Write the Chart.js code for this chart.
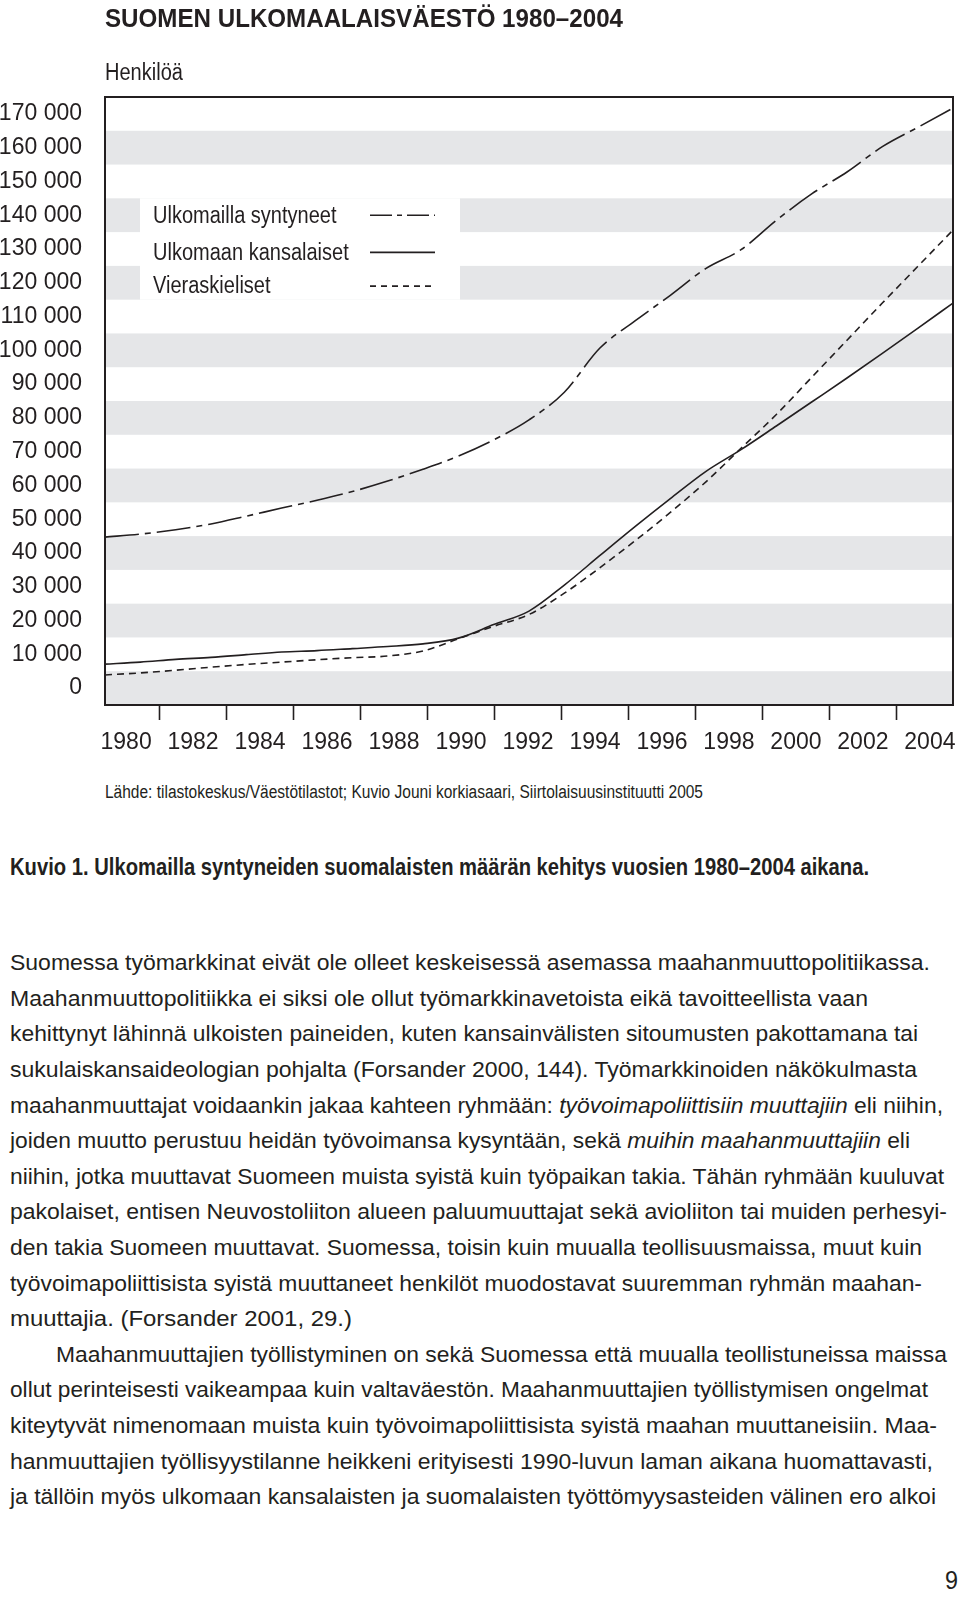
<!DOCTYPE html>
<html lang="fi">
<head>
<meta charset="utf-8">
<script src="https://cdn.jsdelivr.net/npm/chart.js"></script>
<style>
    html, body { margin: 0; padding: 0; background: #fff; }
    body { width: 960px; height: 1607px; position: relative; overflow: hidden; }
    #kuvio { position: absolute; left: 0; top: 0; }
    .txt {
        position: absolute;
        white-space: nowrap;
        line-height: 1;
        transform-origin: 0 0;
        font-family: 'Liberation Sans', Arial, sans-serif;
        color: #231f20;
        z-index: 2;
    }
</style>
</head>
<body>
<canvas id="kuvio" width="960" height="770"></canvas>
<script>
// vuodet ja sarjat (luettu kuvasta)
const vuodet = [1980, 1981, 1982, 1983, 1984, 1985, 1986, 1987, 1988, 1989, 1990, 1991, 1992,
    1993, 1994, 1995, 1996, 1997, 1998, 1999, 2000, 2001, 2002, 2003, 2004];
const ulkomaillaSyntyneet = [44700, 45600, 46900, 48600, 50900, 53300, 55600, 58200, 61300, 64800,
    68700, 73500, 79400, 87600, 100600, 108700, 116300, 124200, 129800, 138500, 146300, 152800,
    160300, 166000, 171700];
const ulkomaanKansalaiset = [7100, 7700, 8500, 9100, 9900, 10700, 11100, 11700, 12300, 13100,
    14800, 18800, 22800, 30500, 39200, 47800, 56100, 64100, 70600, 77600, 84700, 91800,
    99100, 106500, 114000];
const vieraskieliset = [3900, 4500, 5300, 6200, 7000, 7700, 8400, 9000, 9500, 11000,
    14600, 18300, 21800, 28100, 35600, 43600, 52000, 61000, 71000, 81000, 92000, 103000,
    114000, 124800, 135600];

const sarjaNimet = ['Ulkomailla syntyneet', 'Ulkomaan kansalaiset', 'Vieraskieliset'];
const yTicks = [0, 10000, 20000, 30000, 40000, 50000, 60000, 70000, 80000, 90000, 100000,
    110000, 120000, 130000, 140000, 150000, 160000, 170000];
const xLabelYears = [1980, 1982, 1984, 1986, 1988, 1990, 1992, 1994, 1996, 1998, 2000, 2002, 2004];
const xMarkYears = [1981, 1983, 1985, 1987, 1989, 1991, 1993, 1995, 1997, 1999, 2001, 2003];

const FONT = "'Liberation Sans', Arial, sans-serif";
const INK = '#231f20';
const BAND = '#e5e6e8';

const viivat = [
    { data: ulkomaillaSyntyneet, dash: [34, 6, 6, 6], legendDash: [22, 5, 5, 5] },
    { data: ulkomaanKansalaiset, dash: [], legendDash: [] },
    { data: vieraskieliset, dash: [7, 5], legendDash: [6, 5] }
];

function muotoile(v) {
    return String(v).replace(/\B(?=(\d{3})+(?!\d))/g, ' ');
}

// taustaraidat, selitelaatikko ja kehys
const koristeet = {
    id: 'koristeet',
    beforeDatasetsDraw(chart) {
        const { ctx, chartArea: a, scales } = chart;
        const y = scales.y;
        ctx.save();
        ctx.fillStyle = BAND;
        yTicks.forEach((v, i) => {
            if (i % 2 !== 0) return;
            const t = y.getPixelForValue(v + 5000);
            const b = y.getPixelForValue(v - 5000);
            ctx.fillRect(a.left, t, a.right - a.left, b - t);
        });
        // selitteen valkoinen alue
        const lt = y.getPixelForValue(145000);
        const lb = y.getPixelForValue(115000);
        ctx.fillStyle = '#fff';
        ctx.fillRect(a.left + 35, lt, 320, lb - lt);
        ctx.restore();
    },
    afterDatasetsDraw(chart) {
        const { ctx, chartArea: a, scales } = chart;
        const y = scales.y;
        ctx.save();
        ctx.strokeStyle = INK;
        ctx.lineWidth = 2;
        ctx.strokeRect(a.left, a.top, a.right - a.left, a.bottom - a.top);

        // selite
        const rivit = [140000, 129000, 119000];
        ctx.font = '23px ' + FONT;
        ctx.textBaseline = 'middle';
        ctx.fillStyle = INK;
        sarjaNimet.forEach((nimi, i) => {
            const yy = y.getPixelForValue(rivit[i]);
            ctx.save();
            ctx.translate(a.left + 48, yy + 1);
            ctx.scale(0.87, 1);
            ctx.fillText(nimi, 0, 0);
            ctx.restore();
            ctx.beginPath();
            ctx.setLineDash(viivat[i].legendDash);
            ctx.lineWidth = 1.6;
            ctx.moveTo(a.left + 265, yy);
            ctx.lineTo(a.left + 330, yy);
            ctx.stroke();
        });
        ctx.restore();
    }
};

new Chart(document.getElementById('kuvio'), {
    type: 'line',
    data: {
        datasets: viivat.map((v, i) => ({
            label: sarjaNimet[i],
            data: vuodet.map((vuosi, j) => ({ x: vuosi, y: v.data[j] })),
            borderColor: INK,
            borderWidth: 1.6,
            borderDash: v.dash,
            pointRadius: 0,
            fill: false,
            cubicInterpolationMode: 'monotone',
            xAxisID: 'x',
            yAxisID: 'y'
        }))
    },
    options: {
        responsive: false,
        animation: false,
        layout: { padding: { top: 97, right: 7, left: 0, bottom: 0 } },
        plugins: { legend: { display: false }, tooltip: { enabled: false } },
        scales: {
            x: {
                type: 'linear',
                min: 1980,
                max: 2004,
                display: false
            },
            xl: {
                type: 'linear',
                position: 'bottom',
                min: 1979.37,
                max: 2004.69,
                afterBuildTicks: s => {
                    s.ticks = xLabelYears.concat(xMarkYears).sort((p, q) => p - q).map(v => ({ value: v }));
                },
                afterFit: s => {
                    s.height = 65;
                    s.paddingLeft = 0;
                    s.paddingRight = 0;
                },
                border: { display: false },
                grid: {
                    drawOnChartArea: false,
                    drawTicks: true,
                    tickLength: 15,
                    tickWidth: 1.6,
                    tickColor: c => (c.tick && xMarkYears.includes(c.tick.value)) ? INK : 'rgba(0,0,0,0)'
                },
                ticks: {
                    autoSkip: false,
                    maxRotation: 0,
                    padding: 9,
                    color: INK,
                    font: { family: FONT, size: 23 },
                    callback: v => xLabelYears.includes(v) ? String(v) : ''
                }
            },
            y: {
                type: 'linear',
                min: -5000,
                max: 175000,
                afterBuildTicks: s => { s.ticks = yTicks.map(v => ({ value: v })); },
                afterFit: s => {
                    s.width = 105;
                    s.paddingTop = 0;
                    s.paddingBottom = 0;
                },
                border: { display: false },
                grid: { display: false, drawTicks: false },
                ticks: {
                    padding: 23,
                    color: INK,
                    font: { family: FONT, size: 23 },
                    callback: v => muotoile(v)
                }
            }
        }
    },
    plugins: [koristeet]
});

// sivun tekstit
const tekstit = [
    { html: 'SUOMEN ULKOMAALAISVÄESTÖ 1980–2004', x: 105, cy: 17.5, fs: 26, w: 518, bold: true },
    { html: 'Henkilöä', x: 105, cy: 72, fs: 23, w: 78 },
    { html: 'Lähde: tilastokeskus/Väestötilastot; Kuvio Jouni korkiasaari, Siirtolaisuusinstituutti 2005', x: 105, cy: 792, fs: 18, w: 598 },
    { html: 'Kuvio 1. Ulkomailla syntyneiden suomalaisten määrän kehitys vuosien 1980–2004 aikana.', x: 10, cy: 867, fs: 23, w: 859, bold: true },
    { html: '9', x: 945, cy: 1580, fs: 26, w: 13 }
];

const leipa = [
    'Suomessa työmarkkinat eivät ole olleet keskeisessä asemassa maahanmuuttopolitiikassa.',
    'Maahanmuuttopolitiikka ei siksi ole ollut työmarkkinavetoista eikä tavoitteellista vaan',
    'kehittynyt lähinnä ulkoisten paineiden, kuten kansainvälisten sitoumusten pakottamana tai',
    'sukulaiskansaideologian pohjalta (Forsander 2000, 144). Työmarkkinoiden näkökulmasta',
    'maahanmuuttajat voidaankin jakaa kahteen ryhmään: <i>työvoimapoliittisiin muuttajiin</i> eli niihin,',
    'joiden muutto perustuu heidän työvoimansa kysyntään, sekä <i>muihin maahanmuuttajiin</i> eli',
    'niihin, jotka muuttavat Suomeen muista syistä kuin työpaikan takia. Tähän ryhmään kuuluvat',
    'pakolaiset, entisen Neuvostoliiton alueen paluumuuttajat sekä avioliiton tai muiden perhesyi-',
    'den takia Suomeen muuttavat. Suomessa, toisin kuin muualla teollisuusmaissa, muut kuin',
    'työvoimapoliittisista syistä muuttaneet henkilöt muodostavat suuremman ryhmän maahan-',
    'muuttajia. (Forsander 2001, 29.)',
    'Maahanmuuttajien työllistyminen on sekä Suomessa että muualla teollistuneissa maissa',
    'ollut perinteisesti vaikeampaa kuin valtaväestön. Maahanmuuttajien työllistymisen ongelmat',
    'kiteytyvät nimenomaan muista kuin työvoimapoliittisista syistä maahan muuttaneisiin. Maa-',
    'hanmuuttajien työllisyystilanne heikkeni erityisesti 1990-luvun laman aikana huomattavasti,',
    'ja tällöin myös ulkomaan kansalaisten ja suomalaisten työttömyysasteiden välinen ero alkoi'
];
const leipaLoppu = [930, 868, 918, 917, 943, 910, 944, 947, 922, 922, 352, 947, 928, 937, 933, 936];

leipa.forEach((rivi, i) => {
    const x = i === 11 ? 56 : 10;
    tekstit.push({ html: rivi, x: x, cy: 963 + 35.6 * i, fs: 22, w: leipaLoppu[i] - x });
});

tekstit.forEach(t => {
    const el = document.createElement('div');
    el.className = 'txt';
    el.style.fontSize = t.fs + 'px';
    el.style.fontWeight = t.bold ? 'bold' : 'normal';
    el.innerHTML = t.html;
    el.style.left = t.x + 'px';
    el.style.top = (t.cy - 0.4885 * t.fs) + 'px';
    document.body.appendChild(el);
    const w = el.getBoundingClientRect().width;
    el.style.transform = 'scaleX(' + (t.w / w).toFixed(4) + ')';
});
</script>
</body>
</html>
